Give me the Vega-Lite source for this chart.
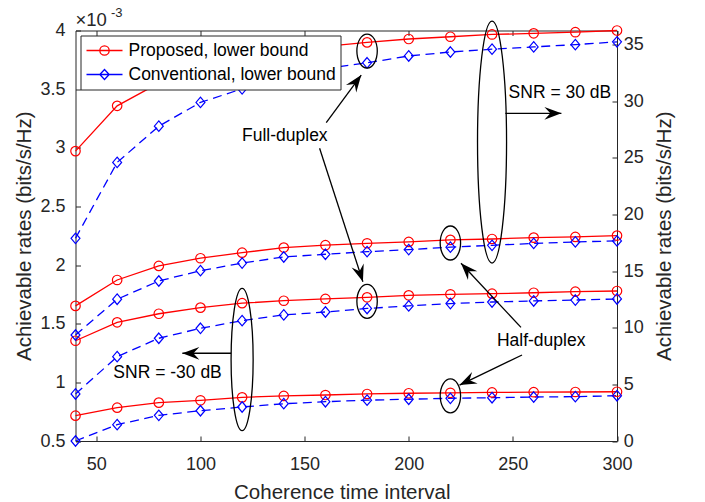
{
"$schema": "https://vega.github.io/schema/vega-lite/v6.json",
"width": 541.5, "height": 410.5,
"autosize": {"type": "none"},
"padding": {"left": 75.5, "top": 30.5, "right": 88, "bottom": 61},
"datasets": {
"series": [
{"interval":40,"rate":1.355,"method":"Proposed, lower bound","snr":"-30 dB","duplex":"Full"},
{"interval":60,"rate":1.512,"method":"Proposed, lower bound","snr":"-30 dB","duplex":"Full"},
{"interval":80,"rate":1.585,"method":"Proposed, lower bound","snr":"-30 dB","duplex":"Full"},
{"interval":100,"rate":1.637,"method":"Proposed, lower bound","snr":"-30 dB","duplex":"Full"},
{"interval":120,"rate":1.675,"method":"Proposed, lower bound","snr":"-30 dB","duplex":"Full"},
{"interval":140,"rate":1.696,"method":"Proposed, lower bound","snr":"-30 dB","duplex":"Full"},
{"interval":160,"rate":1.711,"method":"Proposed, lower bound","snr":"-30 dB","duplex":"Full"},
{"interval":180,"rate":1.725,"method":"Proposed, lower bound","snr":"-30 dB","duplex":"Full"},
{"interval":200,"rate":1.742,"method":"Proposed, lower bound","snr":"-30 dB","duplex":"Full"},
{"interval":220,"rate":1.751,"method":"Proposed, lower bound","snr":"-30 dB","duplex":"Full"},
{"interval":240,"rate":1.756,"method":"Proposed, lower bound","snr":"-30 dB","duplex":"Full"},
{"interval":260,"rate":1.764,"method":"Proposed, lower bound","snr":"-30 dB","duplex":"Full"},
{"interval":280,"rate":1.773,"method":"Proposed, lower bound","snr":"-30 dB","duplex":"Full"},
{"interval":300,"rate":1.779,"method":"Proposed, lower bound","snr":"-30 dB","duplex":"Full"},
{"interval":40,"rate":0.901,"method":"Conventional, lower bound","snr":"-30 dB","duplex":"Full"},
{"interval":60,"rate":1.219,"method":"Conventional, lower bound","snr":"-30 dB","duplex":"Full"},
{"interval":80,"rate":1.376,"method":"Conventional, lower bound","snr":"-30 dB","duplex":"Full"},
{"interval":100,"rate":1.461,"method":"Conventional, lower bound","snr":"-30 dB","duplex":"Full"},
{"interval":120,"rate":1.526,"method":"Conventional, lower bound","snr":"-30 dB","duplex":"Full"},
{"interval":140,"rate":1.575,"method":"Conventional, lower bound","snr":"-30 dB","duplex":"Full"},
{"interval":160,"rate":1.600,"method":"Conventional, lower bound","snr":"-30 dB","duplex":"Full"},
{"interval":180,"rate":1.630,"method":"Conventional, lower bound","snr":"-30 dB","duplex":"Full"},
{"interval":200,"rate":1.652,"method":"Conventional, lower bound","snr":"-30 dB","duplex":"Full"},
{"interval":220,"rate":1.672,"method":"Conventional, lower bound","snr":"-30 dB","duplex":"Full"},
{"interval":240,"rate":1.685,"method":"Conventional, lower bound","snr":"-30 dB","duplex":"Full"},
{"interval":260,"rate":1.694,"method":"Conventional, lower bound","snr":"-30 dB","duplex":"Full"},
{"interval":280,"rate":1.702,"method":"Conventional, lower bound","snr":"-30 dB","duplex":"Full"},
{"interval":300,"rate":1.711,"method":"Conventional, lower bound","snr":"-30 dB","duplex":"Full"},
{"interval":40,"rate":0.716,"method":"Proposed, lower bound","snr":"-30 dB","duplex":"Half"},
{"interval":60,"rate":0.784,"method":"Proposed, lower bound","snr":"-30 dB","duplex":"Half"},
{"interval":80,"rate":0.827,"method":"Proposed, lower bound","snr":"-30 dB","duplex":"Half"},
{"interval":100,"rate":0.847,"method":"Proposed, lower bound","snr":"-30 dB","duplex":"Half"},
{"interval":120,"rate":0.872,"method":"Proposed, lower bound","snr":"-30 dB","duplex":"Half"},
{"interval":140,"rate":0.884,"method":"Proposed, lower bound","snr":"-30 dB","duplex":"Half"},
{"interval":160,"rate":0.892,"method":"Proposed, lower bound","snr":"-30 dB","duplex":"Half"},
{"interval":180,"rate":0.901,"method":"Proposed, lower bound","snr":"-30 dB","duplex":"Half"},
{"interval":200,"rate":0.907,"method":"Proposed, lower bound","snr":"-30 dB","duplex":"Half"},
{"interval":220,"rate":0.911,"method":"Proposed, lower bound","snr":"-30 dB","duplex":"Half"},
{"interval":240,"rate":0.914,"method":"Proposed, lower bound","snr":"-30 dB","duplex":"Half"},
{"interval":260,"rate":0.916,"method":"Proposed, lower bound","snr":"-30 dB","duplex":"Half"},
{"interval":280,"rate":0.918,"method":"Proposed, lower bound","snr":"-30 dB","duplex":"Half"},
{"interval":300,"rate":0.920,"method":"Proposed, lower bound","snr":"-30 dB","duplex":"Half"},
{"interval":40,"rate":0.500,"method":"Conventional, lower bound","snr":"-30 dB","duplex":"Half"},
{"interval":60,"rate":0.639,"method":"Conventional, lower bound","snr":"-30 dB","duplex":"Half"},
{"interval":80,"rate":0.719,"method":"Conventional, lower bound","snr":"-30 dB","duplex":"Half"},
{"interval":100,"rate":0.758,"method":"Conventional, lower bound","snr":"-30 dB","duplex":"Half"},
{"interval":120,"rate":0.790,"method":"Conventional, lower bound","snr":"-30 dB","duplex":"Half"},
{"interval":140,"rate":0.818,"method":"Conventional, lower bound","snr":"-30 dB","duplex":"Half"},
{"interval":160,"rate":0.835,"method":"Conventional, lower bound","snr":"-30 dB","duplex":"Half"},
{"interval":180,"rate":0.848,"method":"Conventional, lower bound","snr":"-30 dB","duplex":"Half"},
{"interval":200,"rate":0.856,"method":"Conventional, lower bound","snr":"-30 dB","duplex":"Half"},
{"interval":220,"rate":0.864,"method":"Conventional, lower bound","snr":"-30 dB","duplex":"Half"},
{"interval":240,"rate":0.869,"method":"Conventional, lower bound","snr":"-30 dB","duplex":"Half"},
{"interval":260,"rate":0.875,"method":"Conventional, lower bound","snr":"-30 dB","duplex":"Half"},
{"interval":280,"rate":0.878,"method":"Conventional, lower bound","snr":"-30 dB","duplex":"Half"},
{"interval":300,"rate":0.886,"method":"Conventional, lower bound","snr":"-30 dB","duplex":"Half"},
{"interval":40,"rate":25.6,"method":"Proposed, lower bound","snr":"30 dB","duplex":"Full"},
{"interval":60,"rate":29.6,"method":"Proposed, lower bound","snr":"30 dB","duplex":"Full"},
{"interval":80,"rate":31.6,"method":"Proposed, lower bound","snr":"30 dB","duplex":"Full"},
{"interval":100,"rate":33.0,"method":"Proposed, lower bound","snr":"30 dB","duplex":"Full"},
{"interval":120,"rate":33.8,"method":"Proposed, lower bound","snr":"30 dB","duplex":"Full"},
{"interval":140,"rate":34.5,"method":"Proposed, lower bound","snr":"30 dB","duplex":"Full"},
{"interval":160,"rate":34.85,"method":"Proposed, lower bound","snr":"30 dB","duplex":"Full"},
{"interval":180,"rate":35.2,"method":"Proposed, lower bound","snr":"30 dB","duplex":"Full"},
{"interval":200,"rate":35.5,"method":"Proposed, lower bound","snr":"30 dB","duplex":"Full"},
{"interval":220,"rate":35.7,"method":"Proposed, lower bound","snr":"30 dB","duplex":"Full"},
{"interval":240,"rate":35.9,"method":"Proposed, lower bound","snr":"30 dB","duplex":"Full"},
{"interval":260,"rate":36.0,"method":"Proposed, lower bound","snr":"30 dB","duplex":"Full"},
{"interval":280,"rate":36.1,"method":"Proposed, lower bound","snr":"30 dB","duplex":"Full"},
{"interval":300,"rate":36.25,"method":"Proposed, lower bound","snr":"30 dB","duplex":"Full"},
{"interval":40,"rate":17.9,"method":"Conventional, lower bound","snr":"30 dB","duplex":"Full"},
{"interval":60,"rate":24.6,"method":"Conventional, lower bound","snr":"30 dB","duplex":"Full"},
{"interval":80,"rate":27.8,"method":"Conventional, lower bound","snr":"30 dB","duplex":"Full"},
{"interval":100,"rate":29.9,"method":"Conventional, lower bound","snr":"30 dB","duplex":"Full"},
{"interval":120,"rate":31.1,"method":"Conventional, lower bound","snr":"30 dB","duplex":"Full"},
{"interval":140,"rate":32.2,"method":"Conventional, lower bound","snr":"30 dB","duplex":"Full"},
{"interval":160,"rate":32.9,"method":"Conventional, lower bound","snr":"30 dB","duplex":"Full"},
{"interval":180,"rate":33.4,"method":"Conventional, lower bound","snr":"30 dB","duplex":"Full"},
{"interval":200,"rate":34.0,"method":"Conventional, lower bound","snr":"30 dB","duplex":"Full"},
{"interval":220,"rate":34.35,"method":"Conventional, lower bound","snr":"30 dB","duplex":"Full"},
{"interval":240,"rate":34.6,"method":"Conventional, lower bound","snr":"30 dB","duplex":"Full"},
{"interval":260,"rate":34.8,"method":"Conventional, lower bound","snr":"30 dB","duplex":"Full"},
{"interval":280,"rate":35.0,"method":"Conventional, lower bound","snr":"30 dB","duplex":"Full"},
{"interval":300,"rate":35.25,"method":"Conventional, lower bound","snr":"30 dB","duplex":"Full"},
{"interval":40,"rate":11.93,"method":"Proposed, lower bound","snr":"30 dB","duplex":"Half"},
{"interval":60,"rate":14.22,"method":"Proposed, lower bound","snr":"30 dB","duplex":"Half"},
{"interval":80,"rate":15.46,"method":"Proposed, lower bound","snr":"30 dB","duplex":"Half"},
{"interval":100,"rate":16.14,"method":"Proposed, lower bound","snr":"30 dB","duplex":"Half"},
{"interval":120,"rate":16.63,"method":"Proposed, lower bound","snr":"30 dB","duplex":"Half"},
{"interval":140,"rate":17.08,"method":"Proposed, lower bound","snr":"30 dB","duplex":"Half"},
{"interval":160,"rate":17.29,"method":"Proposed, lower bound","snr":"30 dB","duplex":"Half"},
{"interval":180,"rate":17.46,"method":"Proposed, lower bound","snr":"30 dB","duplex":"Half"},
{"interval":200,"rate":17.58,"method":"Proposed, lower bound","snr":"30 dB","duplex":"Half"},
{"interval":220,"rate":17.76,"method":"Proposed, lower bound","snr":"30 dB","duplex":"Half"},
{"interval":240,"rate":17.84,"method":"Proposed, lower bound","snr":"30 dB","duplex":"Half"},
{"interval":260,"rate":17.96,"method":"Proposed, lower bound","snr":"30 dB","duplex":"Half"},
{"interval":280,"rate":18.02,"method":"Proposed, lower bound","snr":"30 dB","duplex":"Half"},
{"interval":300,"rate":18.14,"method":"Proposed, lower bound","snr":"30 dB","duplex":"Half"},
{"interval":40,"rate":9.36,"method":"Conventional, lower bound","snr":"30 dB","duplex":"Half"},
{"interval":60,"rate":12.52,"method":"Conventional, lower bound","snr":"30 dB","duplex":"Half"},
{"interval":80,"rate":14.13,"method":"Conventional, lower bound","snr":"30 dB","duplex":"Half"},
{"interval":100,"rate":15.04,"method":"Conventional, lower bound","snr":"30 dB","duplex":"Half"},
{"interval":120,"rate":15.71,"method":"Conventional, lower bound","snr":"30 dB","duplex":"Half"},
{"interval":140,"rate":16.25,"method":"Conventional, lower bound","snr":"30 dB","duplex":"Half"},
{"interval":160,"rate":16.49,"method":"Conventional, lower bound","snr":"30 dB","duplex":"Half"},
{"interval":180,"rate":16.72,"method":"Conventional, lower bound","snr":"30 dB","duplex":"Half"},
{"interval":200,"rate":16.90,"method":"Conventional, lower bound","snr":"30 dB","duplex":"Half"},
{"interval":220,"rate":17.12,"method":"Conventional, lower bound","snr":"30 dB","duplex":"Half"},
{"interval":240,"rate":17.28,"method":"Conventional, lower bound","snr":"30 dB","duplex":"Half"},
{"interval":260,"rate":17.45,"method":"Conventional, lower bound","snr":"30 dB","duplex":"Half"},
{"interval":280,"rate":17.58,"method":"Conventional, lower bound","snr":"30 dB","duplex":"Half"},
{"interval":300,"rate":17.67,"method":"Conventional, lower bound","snr":"30 dB","duplex":"Half"}
],
"arrows": [
{"id":"snr30","x":246.4,"y":3.294,"x2":273.3,"y2":3.294},
{"id":"snrm30","x":114.7,"y":1.248,"x2":91.3,"y2":1.248},
{"id":"fdup","x":160.4,"y":3.214,"x2":177.2,"y2":3.620},
{"id":"fdlow","x":157.2,"y":2.996,"x2":178.0,"y2":1.858},
{"id":"hdup","x":253.9,"y":1.469,"x2":225.1,"y2":2.015},
{"id":"hdlow","x":254.4,"y":1.233,"x2":224.4,"y2":0.977}
],
"ellipses": [
{"kind":"big","x":240,"y":3.049},
{"kind":"mid","x":120,"y":1.195},
{"kind":"small","x":180,"y":3.825},
{"kind":"small","x":180,"y":1.691},
{"kind":"small","x":220,"y":2.188},
{"kind":"small","x":220,"y":0.885}
],
"notes": [
{"label":"SNR = 30 dB","x":272.6,"y":3.465},
{"label":"SNR = -30 dB","x":84.2,"y":1.076},
{"label":"Full-duplex","x":140.5,"y":3.103},
{"label":"Half-duplex","x":263.6,"y":1.355}
],
"exponent": [
{"x":40,"y":4,"base":"×10","power":"-3"}
]
},
"config": {
"font": "Liberation Sans",
"view": {"stroke": "#262626", "strokeWidth": 1},
"axis": {"domain": false, "grid": false, "tickColor": "#262626", "tickSize": -5, "tickWidth": 1, "labelFont": "Liberation Sans", "labelFontSize": 18, "labelColor": "#262626", "labelFlush": false, "labelOverlap": false, "titleFont": "Liberation Sans", "titleFontSize": 20.5, "titleFontWeight": "normal", "titleColor": "#262626"},
"legend": {"orient": "top-left", "offset": 5, "padding": 4, "strokeColor": "#262626", "fillColor": "#FFFFFF", "symbolSize": 1296, "symbolStrokeWidth": 1.3, "symbolOffset": 1, "labelFont": "Liberation Sans", "labelFontSize": 17.5, "labelColor": "#000000", "labelOffset": 5, "labelLimit": 400, "clipHeight": 22, "rowPadding": 2, "cornerRadius": 0}
},
"layer": [
{"data": {"name": "series"}, "transform": [{"filter": "datum.snr === '-30 dB' && datum.method === 'Proposed, lower bound'"}],
 "mark": {"type": "line", "strokeWidth": 1.3, "color": "#FF0000"},
 "encoding": {
  "x": {"field": "interval", "type": "quantitative", "scale": {"domain": [40, 300], "nice": false, "zero": false},
        "axis": {"orient": "bottom", "values": [50, 100, 150, 200, 250, 300], "format": "d", "labelPadding": 19.5, "title": "Coherence time interval", "titlePadding": 9, "titleX": 266.3}},
  "y": {"field": "rate", "type": "quantitative", "scale": {"domain": [0.5, 4], "nice": false, "zero": false},
        "axis": {"orient": "left", "values": [0.5, 1, 1.5, 2, 2.5, 3, 3.5, 4], "format": "~g", "labelPadding": 15.5, "title": "Achievable rates (bits/s/Hz)", "titlePadding": 5}},
  "detail": {"field": "duplex"}
 }},
{"data": {"name": "series"}, "transform": [{"filter": "datum.snr === '-30 dB' && datum.method === 'Conventional, lower bound'"}],
 "mark": {"type": "line", "strokeWidth": 1.3, "color": "#0000FF", "strokeDash": [9, 5.5]},
 "encoding": {
  "x": {"field": "interval", "type": "quantitative", "scale": {"domain": [40, 300], "nice": false, "zero": false}, "axis": null},
  "y": {"field": "rate", "type": "quantitative", "scale": {"domain": [0.5, 4], "nice": false, "zero": false}, "axis": null},
  "detail": {"field": "duplex"}
 }},
{"data": {"name": "series"}, "transform": [{"filter": "datum.snr === '30 dB' && datum.method === 'Proposed, lower bound'"}],
 "mark": {"type": "line", "strokeWidth": 1.3, "color": "#FF0000"},
 "encoding": {
  "x": {"field": "interval", "type": "quantitative", "scale": {"domain": [40, 300], "nice": false, "zero": false}, "axis": null},
  "y": {"field": "rate", "type": "quantitative", "scale": {"domain": [0, 36.25], "nice": false, "zero": false},
        "axis": {"orient": "right", "values": [0, 5, 10, 15, 20, 25, 30, 35], "format": "d", "labelPadding": 11.3, "title": "Achievable rates (bits/s/Hz)", "titleAngle": 270, "titleBaseline": "top", "titlePadding": 11}},
  "detail": {"field": "duplex"}
 }},
{"data": {"name": "series"}, "transform": [{"filter": "datum.snr === '30 dB' && datum.method === 'Conventional, lower bound'"}],
 "mark": {"type": "line", "strokeWidth": 1.3, "color": "#0000FF", "strokeDash": [9, 5.5]},
 "encoding": {
  "x": {"field": "interval", "type": "quantitative", "scale": {"domain": [40, 300], "nice": false, "zero": false}, "axis": null},
  "y": {"field": "rate", "type": "quantitative", "scale": {"domain": [0, 36.25], "nice": false, "zero": false}, "axis": null},
  "detail": {"field": "duplex"}
 }},
{"data": {"name": "series"}, "transform": [{"filter": "datum.snr === '-30 dB' && datum.method === 'Proposed, lower bound'"}],
 "mark": {"type": "point", "shape": "circle", "filled": false, "size": 90, "strokeWidth": 1.2, "opacity": 1, "color": "#FF0000"},
 "encoding": {
  "x": {"field": "interval", "type": "quantitative", "scale": {"domain": [40, 300], "nice": false, "zero": false},
        "axis": {"orient": "top", "values": [50, 100, 150, 200, 250, 300], "labels": false, "title": null}},
  "y": {"field": "rate", "type": "quantitative", "scale": {"domain": [0.5, 4], "nice": false, "zero": false}, "axis": null}
 }},
{"data": {"name": "series"}, "transform": [{"filter": "datum.snr === '-30 dB' && datum.method === 'Conventional, lower bound'"}],
 "mark": {"type": "point", "shape": "M0,-1L0.85,0L0,1L-0.85,0Z", "filled": false, "size": 110, "strokeWidth": 1.2, "opacity": 1, "color": "#0000FF"},
 "encoding": {
  "x": {"field": "interval", "type": "quantitative", "scale": {"domain": [40, 300], "nice": false, "zero": false}, "axis": null},
  "y": {"field": "rate", "type": "quantitative", "scale": {"domain": [0.5, 4], "nice": false, "zero": false}, "axis": null}
 }},
{"data": {"name": "series"}, "transform": [{"filter": "datum.snr === '30 dB' && datum.method === 'Proposed, lower bound'"}],
 "mark": {"type": "point", "shape": "circle", "filled": false, "size": 90, "strokeWidth": 1.2, "opacity": 1, "color": "#FF0000"},
 "encoding": {
  "x": {"field": "interval", "type": "quantitative", "scale": {"domain": [40, 300], "nice": false, "zero": false}, "axis": null},
  "y": {"field": "rate", "type": "quantitative", "scale": {"domain": [0, 36.25], "nice": false, "zero": false}, "axis": null}
 }},
{"data": {"name": "series"}, "transform": [{"filter": "datum.snr === '30 dB' && datum.method === 'Conventional, lower bound'"}],
 "mark": {"type": "point", "shape": "M0,-1L0.85,0L0,1L-0.85,0Z", "filled": false, "size": 110, "strokeWidth": 1.2, "opacity": 1, "color": "#0000FF"},
 "encoding": {
  "x": {"field": "interval", "type": "quantitative", "scale": {"domain": [40, 300], "nice": false, "zero": false}, "axis": null},
  "y": {"field": "rate", "type": "quantitative", "scale": {"domain": [0, 36.25], "nice": false, "zero": false}, "axis": null}
 }},
{"data": {"name": "arrows"},
 "mark": {"type": "rule", "color": "#000000", "strokeWidth": 1.3},
 "encoding": {
  "x": {"field": "x", "type": "quantitative", "scale": {"domain": [40, 300], "nice": false, "zero": false}, "axis": null},
  "y": {"field": "y", "type": "quantitative", "scale": {"domain": [0.5, 4], "nice": false, "zero": false}, "axis": null},
  "x2": {"field": "x2"}, "y2": {"field": "y2"}
 }},
{"data": {"name": "arrows"}, "transform": [{"filter": "datum.id === 'snr30'"}],
 "mark": {"type": "point", "shape": "M0,0L-2,-0.75L-1.3,0L-2,0.75Z", "filled": true, "color": "#000000", "size": 289, "angle": 0, "opacity": 1},
 "encoding": {"x": {"field": "x2", "type": "quantitative", "scale": {"domain": [40, 300], "nice": false, "zero": false}, "axis": null}, "y": {"field": "y2", "type": "quantitative", "scale": {"domain": [0.5, 4], "nice": false, "zero": false}, "axis": null}}},
{"data": {"name": "arrows"}, "transform": [{"filter": "datum.id === 'snrm30'"}],
 "mark": {"type": "point", "shape": "M0,0L-2,-0.75L-1.3,0L-2,0.75Z", "filled": true, "color": "#000000", "size": 289, "angle": 180, "opacity": 1},
 "encoding": {"x": {"field": "x2", "type": "quantitative", "scale": {"domain": [40, 300], "nice": false, "zero": false}, "axis": null}, "y": {"field": "y2", "type": "quantitative", "scale": {"domain": [0.5, 4], "nice": false, "zero": false}, "axis": null}}},
{"data": {"name": "arrows"}, "transform": [{"filter": "datum.id === 'fdup'"}],
 "mark": {"type": "point", "shape": "M0,0L-2,-0.75L-1.3,0L-2,0.75Z", "filled": true, "color": "#000000", "size": 289, "angle": 306.6, "opacity": 1},
 "encoding": {"x": {"field": "x2", "type": "quantitative", "scale": {"domain": [40, 300], "nice": false, "zero": false}, "axis": null}, "y": {"field": "y2", "type": "quantitative", "scale": {"domain": [0.5, 4], "nice": false, "zero": false}, "axis": null}}},
{"data": {"name": "arrows"}, "transform": [{"filter": "datum.id === 'fdlow'"}],
 "mark": {"type": "point", "shape": "M0,0L-2,-0.75L-1.3,0L-2,0.75Z", "filled": true, "color": "#000000", "size": 289, "angle": 72, "opacity": 1},
 "encoding": {"x": {"field": "x2", "type": "quantitative", "scale": {"domain": [40, 300], "nice": false, "zero": false}, "axis": null}, "y": {"field": "y2", "type": "quantitative", "scale": {"domain": [0.5, 4], "nice": false, "zero": false}, "axis": null}}},
{"data": {"name": "arrows"}, "transform": [{"filter": "datum.id === 'hdup'"}],
 "mark": {"type": "point", "shape": "M0,0L-2,-0.75L-1.3,0L-2,0.75Z", "filled": true, "color": "#000000", "size": 289, "angle": 226.8, "opacity": 1},
 "encoding": {"x": {"field": "x2", "type": "quantitative", "scale": {"domain": [40, 300], "nice": false, "zero": false}, "axis": null}, "y": {"field": "y2", "type": "quantitative", "scale": {"domain": [0.5, 4], "nice": false, "zero": false}, "axis": null}}},
{"data": {"name": "arrows"}, "transform": [{"filter": "datum.id === 'hdlow'"}],
 "mark": {"type": "point", "shape": "M0,0L-2,-0.75L-1.3,0L-2,0.75Z", "filled": true, "color": "#000000", "size": 289, "angle": 154.3, "opacity": 1},
 "encoding": {"x": {"field": "x2", "type": "quantitative", "scale": {"domain": [40, 300], "nice": false, "zero": false}, "axis": null}, "y": {"field": "y2", "type": "quantitative", "scale": {"domain": [0.5, 4], "nice": false, "zero": false}, "axis": null}}},
{"data": {"name": "ellipses"}, "transform": [{"filter": "datum.kind === 'big'"}],
 "mark": {"type": "point", "shape": "M0,-1C0.0663,-1 0.12,-0.5523 0.12,0C0.12,0.5523 0.0663,1 0,1C-0.0663,1 -0.12,0.5523 -0.12,0C-0.12,-0.5523 -0.0663,-1 0,-1Z", "filled": false, "color": "#000000", "strokeWidth": 1.3, "size": 58564, "opacity": 1},
 "encoding": {"x": {"field": "x", "type": "quantitative", "scale": {"domain": [40, 300], "nice": false, "zero": false}, "axis": null}, "y": {"field": "y", "type": "quantitative", "scale": {"domain": [0.5, 4], "nice": false, "zero": false}, "axis": null}}},
{"data": {"name": "ellipses"}, "transform": [{"filter": "datum.kind === 'mid'"}],
 "mark": {"type": "point", "shape": "M0,-1C0.0856,-1 0.155,-0.5523 0.155,0C0.155,0.5523 0.0856,1 0,1C-0.0856,1 -0.155,0.5523 -0.155,0C-0.155,-0.5523 -0.0856,-1 0,-1Z", "filled": false, "color": "#000000", "strokeWidth": 1.3, "size": 20250, "opacity": 1},
 "encoding": {"x": {"field": "x", "type": "quantitative", "scale": {"domain": [40, 300], "nice": false, "zero": false}, "axis": null}, "y": {"field": "y", "type": "quantitative", "scale": {"domain": [0.5, 4], "nice": false, "zero": false}, "axis": null}}},
{"data": {"name": "ellipses"}, "transform": [{"filter": "datum.kind === 'small'"}],
 "mark": {"type": "point", "shape": "M0,-1C0.3314,-1 0.6,-0.5523 0.6,0C0.6,0.5523 0.3314,1 0,1C-0.3314,1 -0.6,0.5523 -0.6,0C-0.6,-0.5523 -0.3314,-1 0,-1Z", "filled": false, "color": "#000000", "strokeWidth": 1.3, "size": 1156, "opacity": 1},
 "encoding": {"x": {"field": "x", "type": "quantitative", "scale": {"domain": [40, 300], "nice": false, "zero": false}, "axis": null}, "y": {"field": "y", "type": "quantitative", "scale": {"domain": [0.5, 4], "nice": false, "zero": false}, "axis": null}}},
{"data": {"name": "notes"},
 "mark": {"type": "text", "font": "Liberation Sans", "fontSize": 17.5, "color": "#000000", "align": "center", "baseline": "middle"},
 "encoding": {"x": {"field": "x", "type": "quantitative", "scale": {"domain": [40, 300], "nice": false, "zero": false}, "axis": null}, "y": {"field": "y", "type": "quantitative", "scale": {"domain": [0.5, 4], "nice": false, "zero": false}, "axis": null}, "text": {"field": "label"}}},
{"data": {"name": "exponent"},
 "mark": {"type": "text", "font": "Liberation Sans", "fontSize": 18.5, "color": "#262626", "align": "left", "baseline": "alphabetic", "dy": -4.5},
 "encoding": {"x": {"field": "x", "type": "quantitative", "scale": {"domain": [40, 300], "nice": false, "zero": false}, "axis": null}, "y": {"field": "y", "type": "quantitative", "scale": {"domain": [0.5, 4], "nice": false, "zero": false}, "axis": null}, "text": {"field": "base"}}},
{"data": {"name": "exponent"},
 "mark": {"type": "text", "font": "Liberation Sans", "fontSize": 13, "color": "#262626", "align": "left", "baseline": "alphabetic", "dx": 35.5, "dy": -14},
 "encoding": {"x": {"field": "x", "type": "quantitative", "scale": {"domain": [40, 300], "nice": false, "zero": false}, "axis": null}, "y": {"field": "y", "type": "quantitative", "scale": {"domain": [0.5, 4], "nice": false, "zero": false}, "axis": null}, "text": {"field": "power"}}},
{"data": {"name": "series"}, "transform": [{"filter": "datum.snr === '-30 dB' && datum.interval === 300 && datum.duplex === 'Half'"}],
 "mark": {"type": "point", "filled": false, "opacity": 0, "strokeWidth": 1.3},
 "encoding": {
  "x": {"field": "interval", "type": "quantitative", "scale": {"domain": [40, 300], "nice": false, "zero": false}, "axis": null},
  "y": {"field": "rate", "type": "quantitative", "scale": {"domain": [0.5, 4], "nice": false, "zero": false}, "axis": null},
  "color": {"field": "method", "type": "nominal", "scale": {"domain": ["Proposed, lower bound", "Conventional, lower bound"], "range": ["#FF0000", "#0000FF"]}, "legend": {"title": null}},
  "shape": {"field": "method", "type": "nominal", "scale": {"domain": ["Proposed, lower bound", "Conventional, lower bound"], "range": ["M-1,0L1,0M0.26,0C0.26,0.1436 0.1436,0.26 0,0.26C-0.1436,0.26 -0.26,0.1436 -0.26,0C-0.26,-0.1436 -0.1436,-0.26 0,-0.26C0.1436,-0.26 0.26,-0.1436 0.26,0Z", "M-1,0L1,0M0,-0.28L0.26,0L0,0.28L-0.26,0Z"]}, "legend": {"title": null}}
 }}
],
"resolve": {"scale": {"y": "independent"}}
}
